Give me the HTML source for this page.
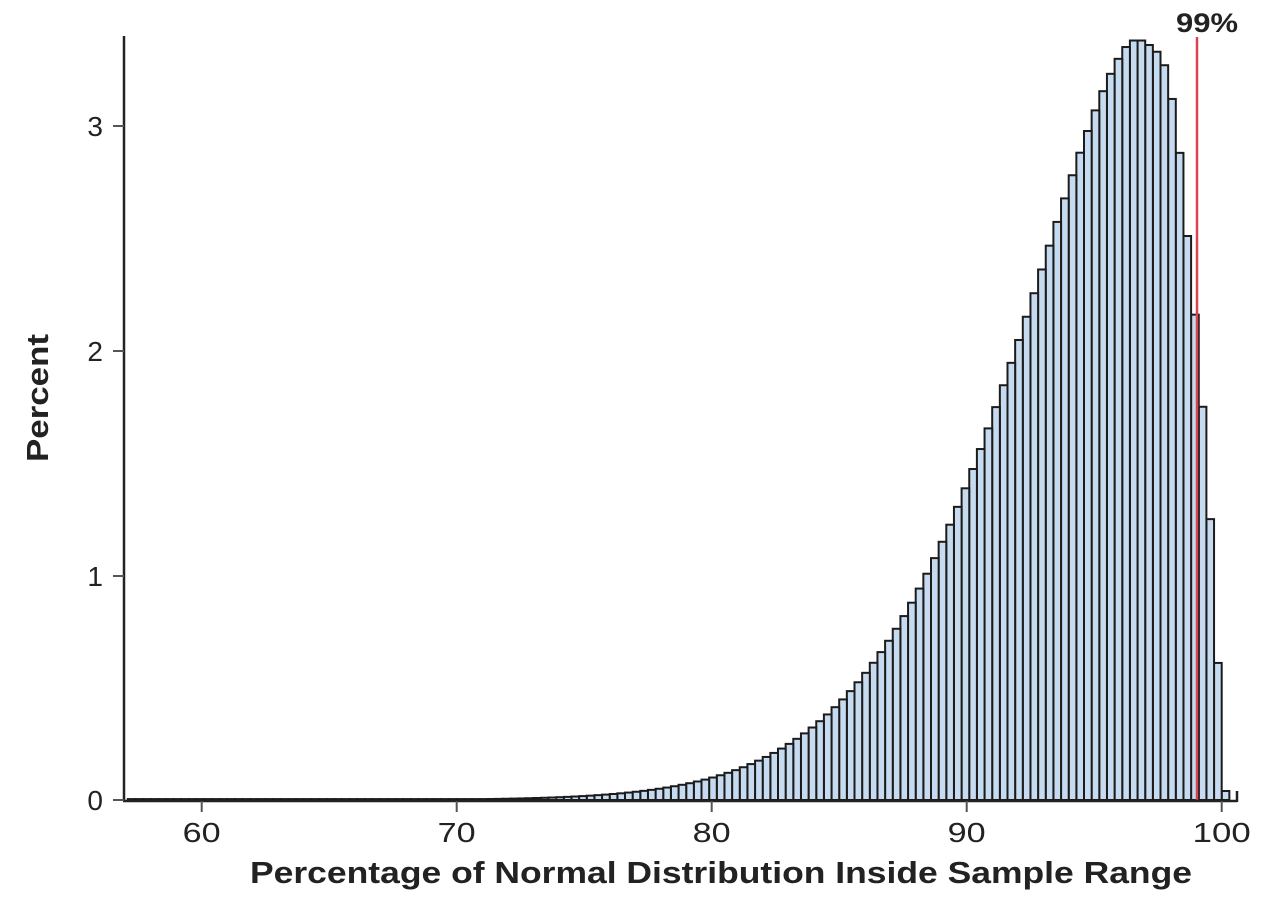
<!DOCTYPE html>
<html><head><meta charset="utf-8"><style>
html,body{margin:0;padding:0;background:#fff;}
svg{display:block;font-family:"Liberation Sans",sans-serif;}
</style></head><body>
<svg id="c" width="1280" height="900" viewBox="0 0 1280 900" xmlns="http://www.w3.org/2000/svg">
<g id="bars"></g>
<line x1="1197" y1="37" x2="1197" y2="801" stroke="#d9434f" stroke-width="2.5"/>
<line x1="124" y1="36" x2="124" y2="801" stroke="#222" stroke-width="2.5"/>
<line x1="123" y1="801" x2="1237" y2="801" stroke="#222" stroke-width="2.5"/>
<line x1="1237" y1="791" x2="1237" y2="802" stroke="#222" stroke-width="2.5"/>
<g stroke="#555" stroke-width="2">
<line x1="113" y1="800" x2="124" y2="800"/>
<line x1="113" y1="576" x2="124" y2="576"/>
<line x1="113" y1="351" x2="124" y2="351"/>
<line x1="113" y1="126" x2="124" y2="126"/>
<line x1="201.7" y1="801" x2="201.7" y2="812"/>
<line x1="456.7" y1="801" x2="456.7" y2="812"/>
<line x1="711.7" y1="801" x2="711.7" y2="812"/>
<line x1="966.7" y1="801" x2="966.7" y2="812"/>
<line x1="1221.7" y1="801" x2="1221.7" y2="812"/>
</g>
<g font-size="28" fill="#222" text-anchor="end">
<text x="103" y="810">0</text>
<text x="103" y="586">1</text>
<text x="103" y="361">2</text>
<text x="103" y="136">3</text>
</g>
<g font-size="28" fill="#222" text-anchor="middle">
<text x="201.7" y="842" textLength="38" lengthAdjust="spacingAndGlyphs">60</text>
<text x="456.7" y="842" textLength="38" lengthAdjust="spacingAndGlyphs">70</text>
<text x="711.7" y="842" textLength="38" lengthAdjust="spacingAndGlyphs">80</text>
<text x="966.7" y="842" textLength="38" lengthAdjust="spacingAndGlyphs">90</text>
<text x="1221.7" y="842" textLength="58" lengthAdjust="spacingAndGlyphs">100</text>
</g>
<text x="250" y="883" font-size="31" font-weight="bold" fill="#222" textLength="942" lengthAdjust="spacingAndGlyphs">Percentage of Normal Distribution Inside Sample Range</text>
<text transform="translate(48,398) rotate(-90)" font-size="31" font-weight="bold" fill="#222" text-anchor="middle" textLength="128" lengthAdjust="spacingAndGlyphs">Percent</text>
<text x="1207" y="32" font-size="27" font-weight="bold" fill="#222" text-anchor="middle" textLength="62" lengthAdjust="spacingAndGlyphs">99%</text>
</svg>
<script>
(function(){
var g=document.getElementById('bars');
function X(v){return 201.7+(v-60)*25.5;}
function Y(h){return 800-h*224.7;}
var right=[0.61,1.25,1.75,2.16,2.51,2.88,3.12,3.27,3.33,3.36,3.38];
var s='';
function bar(a,b,h){var x=X(a),w=X(b)-x,y=Y(h);s+='<rect x="'+x.toFixed(2)+'" y="'+y.toFixed(2)+'" width="'+w.toFixed(2)+'" height="'+(800-y).toFixed(2)+'" fill="#c6dbef" stroke="#1b1b1b" stroke-width="2"/>';}
bar(100,100.3,0.04);
for(var k=0;k<145;k++){
 var b=100-0.3*k,a=b-0.3;if(a<57)break;
 var h;
 if(k<right.length)h=right[k];
 else{var c=(a+b)/2,d=96.55-c;h=3.38*Math.exp(-Math.pow(Math.max(d,0)/7.13,1.5));}
 if(h<0.004)h=0.004;
 bar(a,b,h);
}
g.innerHTML=s;
})();
</script>
</body></html>
